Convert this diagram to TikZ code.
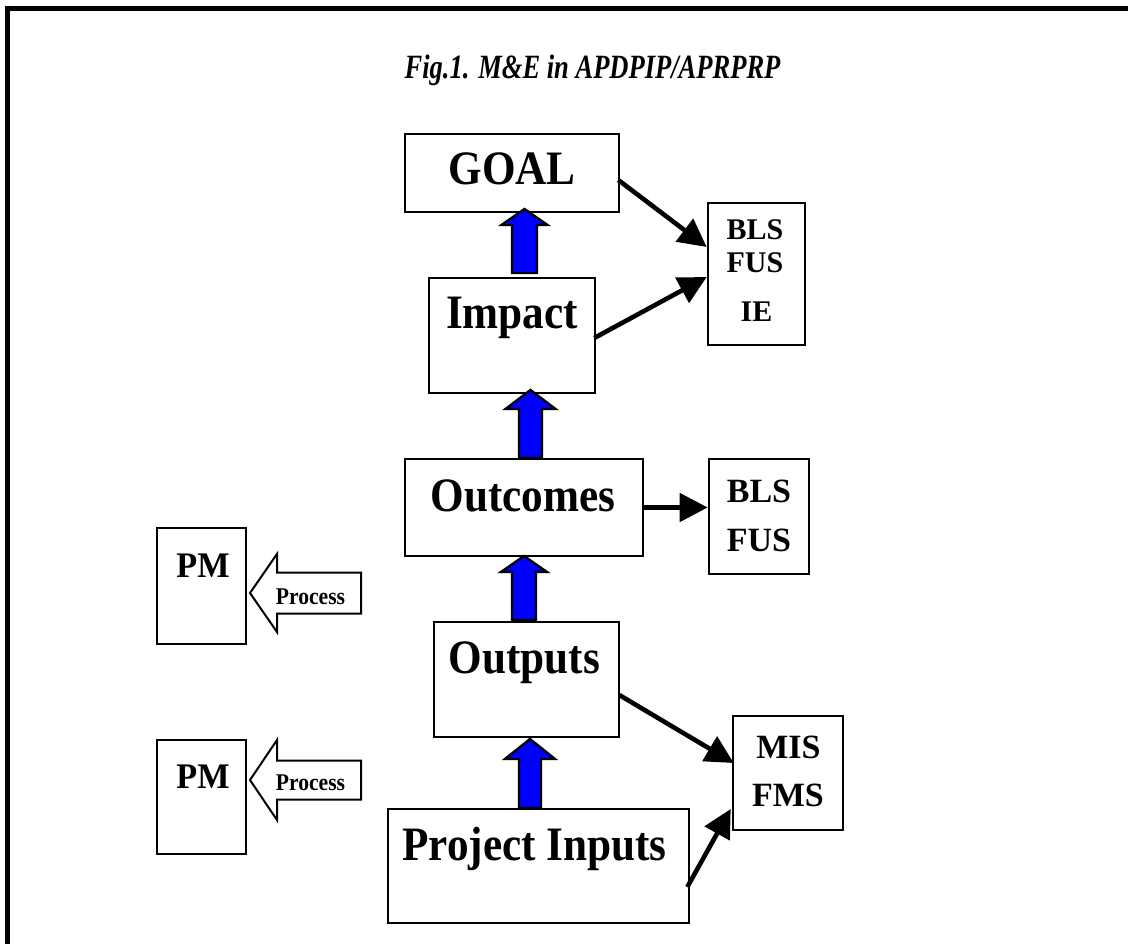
\documentclass[tikz,border=0pt]{standalone}
\usepackage{fontspec}
\setmainfont{Liberation Serif}
\newfontfamily\fA[FakeStretch=0.9]{Liberation Serif}
\newfontfamily\fT[FakeStretch=0.78]{Liberation Serif}
\newfontfamily\fP[FakeStretch=0.95]{Liberation Serif}
\usetikzlibrary{arrows.meta,calc}
\newcommand{\blueup}[7]{% x, ytip, yhead, ybottom, halfshaft, halfhead
  \draw[bluearr] (#1,#2) -- (#1+#6,#3) -- (#1+#5,#3) -- (#1+#5,#4) -- (#1-#5,#4) -- (#1-#5,#3) -- (#1-#6,#3) -- cycle;}
\newcommand{\procleft}[3]{% ycenter, halfhead, halfshaft
  \draw[procarr] (250,#1) -- (277,#1-#2) -- (277,#1-#3) -- (361,#1-#3) -- (361,#1+#3) -- (277,#1+#3) -- (277,#1+#2) -- cycle;}
\begin{document}
\begin{tikzpicture}[x=1pt,y=-1pt,
  box/.style={draw, line width=2.6pt, rectangle, inner sep=0pt, fill=white},
  conn/.style={line width=4.6pt, -{Triangle[length=28pt,width=28pt]}},
  bluearr/.style={draw, fill=blue, line width=2.4pt, line join=miter},
  procarr/.style={draw, fill=white, line width=2pt, line join=miter},
  big/.style={font=\fA\bfseries\fontsize{48}{50}\selectfont, inner sep=0pt, anchor=base},
  mid/.style={font=\bfseries\fontsize{34}{36}\selectfont, inner sep=0pt, anchor=base},
  sml/.style={font=\bfseries\fontsize{30}{32}\selectfont, inner sep=0pt, anchor=base},
  pmtxt/.style={font=\fP\bfseries\fontsize{36}{38}\selectfont, inner sep=0pt, anchor=base},
  proctxt/.style={font=\fA\bfseries\fontsize{24}{26}\selectfont, inner sep=0pt, anchor=base}
]
\useasboundingbox (0,0) rectangle (1128,944);
% frame
\draw[line width=5pt] (7.5,960) -- (7.5,8.5) -- (1140,8.5);
% title
\node[font=\fT\bfseries\itshape\fontsize{34}{36}\selectfont, inner sep=0pt, anchor=base] (title) at (592.5,79) {Fig.1. M\&E in APDPIP/APRPRP};
% boxes
\node[box, minimum width=214pt, minimum height=78pt] (goal) at (512,173) {};
\node[box, minimum width=166pt, minimum height=115pt] (impact) at (512,335.5) {};
\node[box, minimum width=238pt, minimum height=97pt] (outcomes) at (524,507.5) {};
\node[box, minimum width=185pt, minimum height=115pt] (outputs) at (526.5,679.5) {};
\node[box, minimum width=301pt, minimum height=114pt] (inputs) at (538.5,866) {};
\node[box, minimum width=97pt, minimum height=142pt] (bls1) at (756.5,274) {};
\node[box, minimum width=100pt, minimum height=115pt] (bls2) at (759,516.5) {};
\node[box, minimum width=110pt, minimum height=114pt] (mis) at (788,773) {};
\node[box, minimum width=89pt, minimum height=116pt] (pm1) at (201.5,586) {};
\node[box, minimum width=89pt, minimum height=114pt] (pm2) at (201.5,797) {};
% labels
\node[big] (goalT) at (512,185) {GOAL};
\node[big] (impactT) at (512,329) {Impact};
\node[big] (outcomesT) at (523,511) {Outcomes};
\node[big] (outputsT) at (524.5,673) {Outputs};
\node[big] (inputsT) at (534.5,860) {Project Inputs};
\node[sml] (bls1a) at (755,240) {BLS};
\node[sml] (bls1b) at (755,273) {FUS};
\node[sml] (bls1c) at (756.5,322) {IE};
\node[mid] (bls2a) at (759,502) {BLS};
\node[mid] (bls2b) at (759,551) {FUS};
\node[mid] (misa) at (788.5,758) {MIS};
\node[mid] (misb) at (788,806) {FMS};
\node[pmtxt] (pm1T) at (203,577) {PM};
\node[pmtxt] (pm2T) at (203,788) {PM};
% blue block arrows
\blueup{524.5}{209}{225}{273}{12.5}{23}{}
\blueup{530.5}{390}{409}{458}{11.5}{25}{}
\blueup{524}{556}{572}{620}{12}{23}{}
\blueup{530}{739}{759}{808}{11}{25}{}
% process arrows
\procleft{593}{39}{20.5}
\procleft{780}{40}{19.5}
\node[proctxt] (proc1) at (310.5,604) {Process};
\node[proctxt] (proc2) at (310.5,790) {Process};
% connectors
\draw[conn] ($(goal.east)+(-2,7)$) -- ($(bls1.west)+(0,-27)$);
\draw[conn] ($(impact.east)+(-2,2.5)$) -- ($(bls1.west)+(0,3)$);
\draw[conn] (outcomes.east) -- (outcomes.east -| bls2.west);
\draw[conn] ($(outputs.east)+(-1,15.5)$) -- ($(mis.west)+(2,-10)$);
\draw[conn] ($(inputs.east)+(-3,21)$) -- ($(mis.west)+(-1,36)$);
\end{tikzpicture}
\end{document}
